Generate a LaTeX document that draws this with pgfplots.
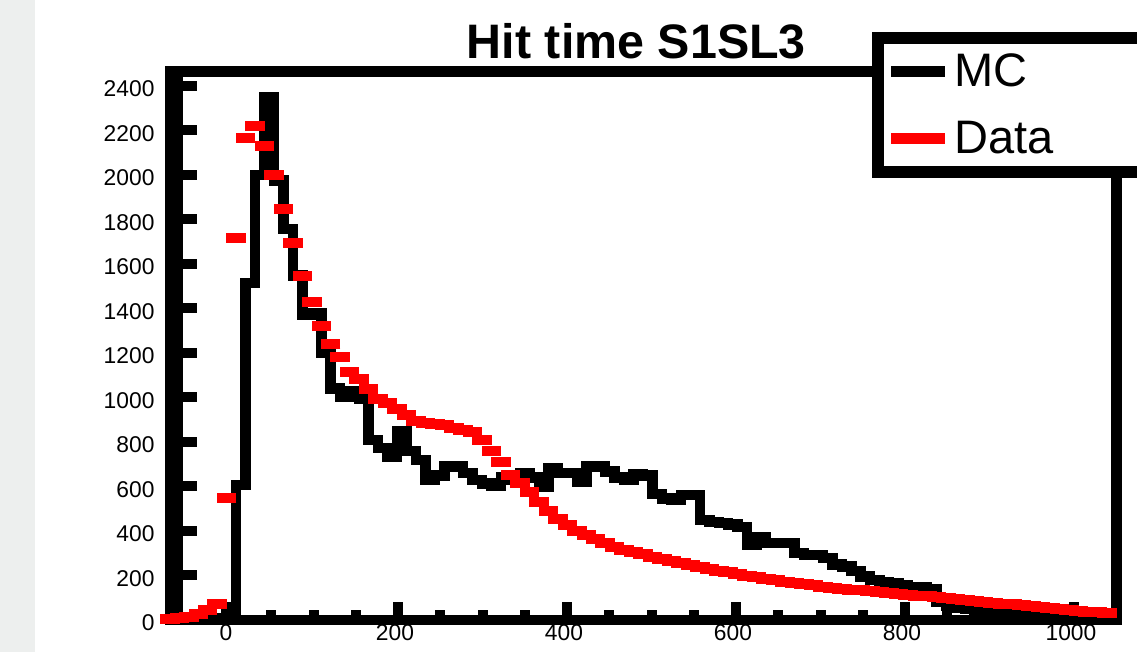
\documentclass[border=0pt]{standalone}
\usepackage{pgfplots}
\pgfplotsset{compat=1.18}
\usepackage{fontspec}
\setmainfont{Liberation Sans}
\definecolor{stripgray}{RGB}{237,239,238}
\begin{document}
\begin{tikzpicture}
\useasboundingbox (0,0) rectangle (568.5pt,326pt);
\fill[white] (0,0) rectangle (568.5pt,326pt);
\fill[stripgray] (0,0) rectangle (17.5pt,326pt);
\begin{axis}[
  at={(84.925pt,16pt)}, anchor=south west, scale only axis,
  width=473.2pt, height=274.25pt,
  xmin=-70, xmax=1050, ymin=0, ymax=2465,
  clip=false,
  axis line style={line width=5.25pt, line cap=rect},
  xtick={0,200,...,1000}, minor x tick num=3,
  ytick=\empty, extra y ticks={0,200,...,2400},
  extra tick style={major tick length=13.5pt},
  major tick length=9pt, minor tick length=5pt,
  tick align=inside, xtick pos=left, ytick pos=left,
  tick style={line width=5pt, black},
  ticklabel style={font=\fontsize{11.4}{13}\selectfont},
  /pgf/number format/assume math mode=true,
  /pgf/number format/1000 sep={},
  xticklabel style={anchor=north, inner sep=0pt, yshift=-2pt, xshift=-1.5pt},
  yticklabel style={anchor=east, inner sep=0pt, xshift=-7.5pt, yshift=-1.5pt},
  title={Hit time S1SL3},
  title style={at={(rel axis cs:0.493,1.0027)}, anchor=base, inner sep=0pt, yshift=0pt,
    font=\bfseries\fontsize{24.2}{28}\selectfont},
  legend style={at={(rel axis cs:0.7416,1.0721)}, anchor=north west,
    draw=black, line width=6pt, fill=white,
    font=\fontsize{23.5}{27}\selectfont, inner xsep=4pt, inner ysep=6pt,
    row sep=11.5pt},
  legend cell align=left,
]
\addplot[const plot, black, line width=5.25pt, line join=miter,
  legend image code/.code={\draw[black, line width=5.5pt] (0pt,0pt) -- (27pt,0pt);}]
coordinates {
(-70,0) (-58.8,0) (-47.6,0) (-36.4,0) (-25.2,0) (-14,10) (-2.8,25) (8.4,606)
(19.6,1515) (30.8,2000) (42,2350) (53.2,1975) (64.4,1758) (75.6,1548) (86.8,1370)
(98,1380) (109.2,1203) (120.4,1040) (131.6,1005) (142.8,1030) (154,995) (165.2,809)
(176.4,773) (187.6,734) (198.8,846) (210,760) (221.2,720) (232.4,629) (243.6,650)
(254.8,689) (266,689) (277.2,660) (288.4,629) (299.6,614) (310.8,602) (322,640)
(333.2,630) (344.4,660) (355.6,640) (366.8,600) (378,683) (389.2,660) (400.4,660)
(411.6,620) (422.8,692) (434,690) (445.2,667) (456.4,640) (467.6,629) (478.8,656)
(490,650) (501.2,566) (512.4,545) (523.6,539) (534.8,562) (546,562) (557.2,450)
(568.4,440) (579.6,435) (590.8,430) (602,418) (613.2,340) (624.4,373) (635.6,346)
(646.8,346) (658,346) (669.2,300) (680.4,292) (691.6,292) (702.8,278) (714,250)
(725.2,240) (736.4,220) (747.6,195) (758.8,180) (770,171) (781.2,165) (792.4,157)
(803.6,148) (814.8,148) (826,140) (837.2,80) (848.4,65) (859.6,55) (870.8,50)
(882,45) (893.2,45) (904.4,40) (915.6,40) (926.8,35) (938,35) (949.2,30)
(960.4,30) (971.6,30) (982.8,25) (994,25) (1005.2,25) (1016.4,20) (1027.6,20)
(1038.8,20) (1050,20)
};
\addlegendentry{\makebox[90pt][l]{MC}}
\addplot[only marks, red, mark=-, mark size=4.87pt, mark options={line width=5pt},
  legend image code/.code={\draw[red, line width=5.5pt] (0pt,0pt) -- (27pt,0pt);}]
coordinates {
(-70,5) (-58.8,8) (-47.6,15) (-36.4,28) (-25.2,44) (-14,70) (-2.8,549) (8.4,1716)
(19.6,2168) (30.8,2221) (42,2129) (53.2,2002) (64.4,1845) (75.6,1696) (86.8,1548)
(98,1428) (109.2,1320) (120.4,1239) (131.6,1180) (142.8,1115) (154,1083) (165.2,1037)
(176.4,995) (187.6,975) (198.8,950) (210,920) (221.2,895) (232.4,885) (243.6,880)
(254.8,875) (266,865) (277.2,855) (288.4,845) (299.6,810) (310.8,760) (322,710)
(333.2,650) (344.4,615) (355.6,575) (366.8,530) (378,490) (389.2,455) (400.4,425)
(411.6,400) (422.8,380) (434,362) (445.2,346) (456.4,330) (467.6,315) (478.8,305)
(490,295) (501.2,285) (512.4,275) (523.6,266) (534.8,258) (546,248) (557.2,240)
(568.4,230) (579.6,222) (590.8,214) (602,206) (613.2,198) (624.4,191) (635.6,184)
(646.8,178) (658,172) (669.2,167) (680.4,162) (691.6,156) (702.8,150) (714,145)
(725.2,141) (736.4,137) (747.6,133) (758.8,129) (770,125) (781.2,122) (792.4,118)
(803.6,114) (814.8,110) (826,106) (837.2,102) (848.4,98) (859.6,94) (870.8,90)
(882,86) (893.2,82) (904.4,78) (915.6,74) (926.8,70) (938,66) (949.2,62)
(960.4,58) (971.6,54) (982.8,50) (994,46) (1005.2,42) (1016.4,38) (1027.6,35)
(1038.8,32)
};
\addlegendentry{\makebox[90pt][l]{Data}}
\draw[line width=5.25pt] (rel axis cs:0.0086,0) -- (rel axis cs:0.0086,1);
\end{axis}
\end{tikzpicture}
\end{document}
